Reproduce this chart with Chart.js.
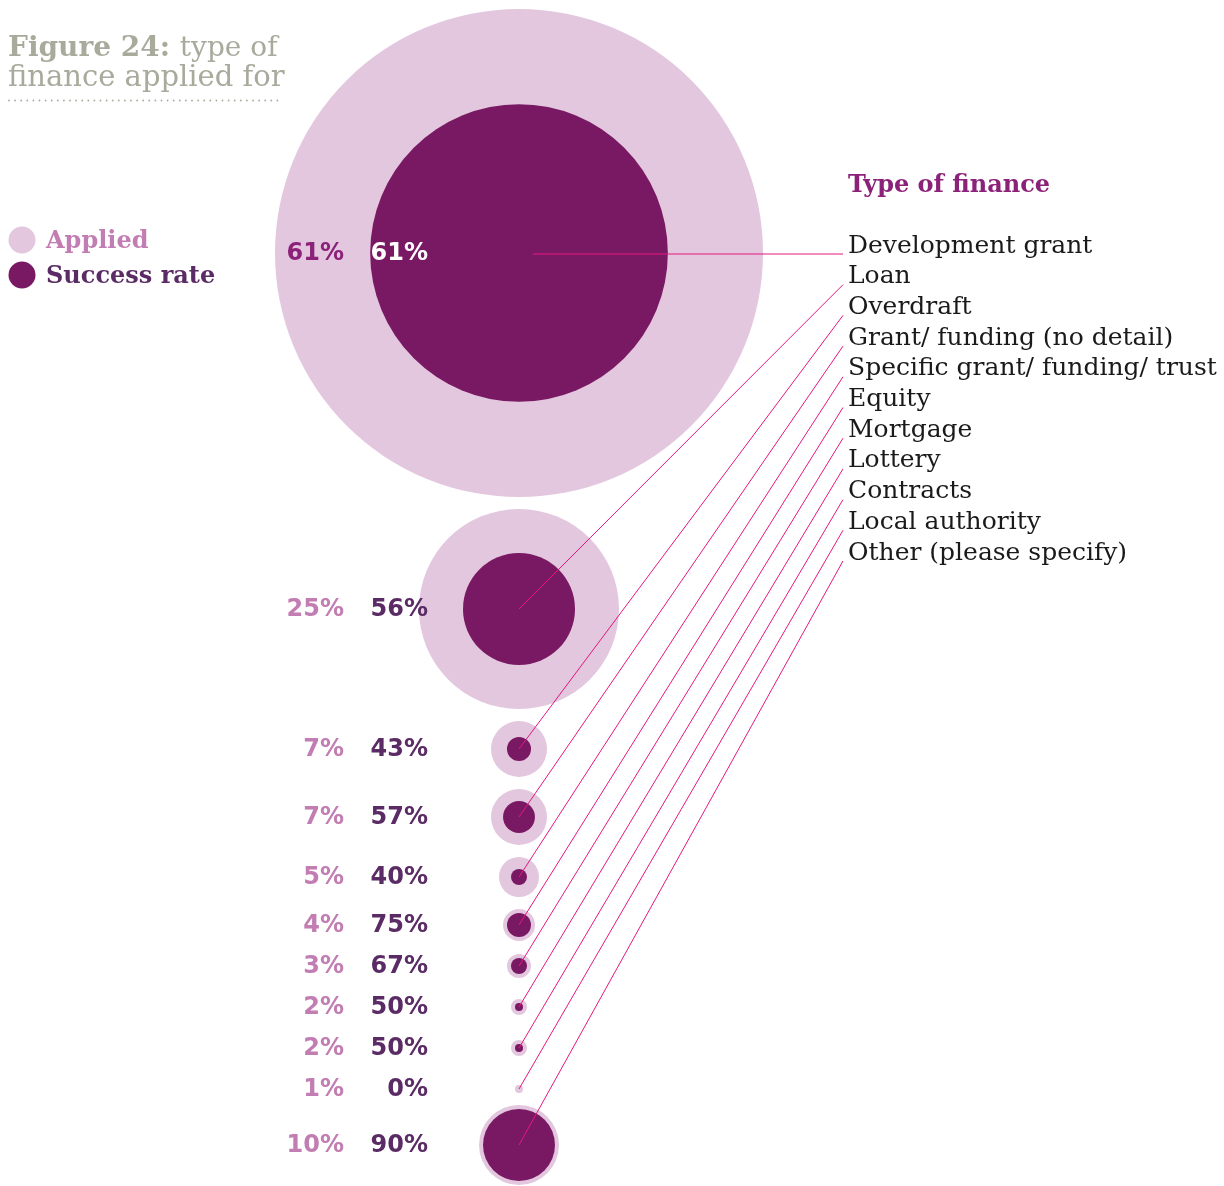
<!DOCTYPE html>
<html>
<head>
<meta charset="utf-8">
<script src="https://cdn.jsdelivr.net/npm/chart.js@4/dist/chart.umd.min.js"></script>
<style>
  html, body { margin: 0; padding: 0; background: #ffffff; }
  #wrap { width: 1224px; height: 1186px; position: relative; }
</style>
</head>
<body>
<div id="wrap"><canvas id="c" width="1224" height="1186"></canvas></div>
<script>
// ---- Data ----
const categories = [
  'Development grant', 'Loan', 'Overdraft', 'Grant/ funding (no detail)',
  'Specific grant/ funding/ trust', 'Equity', 'Mortgage', 'Lottery',
  'Contracts', 'Local authority', 'Other (please specify)'
];
const appliedPct = [61, 25, 7, 7, 5, 4, 3, 2, 2, 1, 10];
const successPct = [61, 56, 43, 57, 40, 75, 67, 50, 50, 0, 90];

const titleBold = 'Figure 24:';
const titleRest = ['type of', 'finance applied for'];
const legendLabels = ['Applied', 'Success rate'];
const listHeading = 'Type of finance';

// ---- Layout / style constants ----
const W = 1224, H = 1186;
const PX_PER_PCT = 4;      // bubble radius (px) per percentage point applied
const COL_X = 519;         // bubble column
const TOP = 9, GAP = 12, MIN_STEP = 41;
const LIGHT = '#e3c7de', DARK = '#7a1963', LINE = '#e5167f';
const APPLIED_TXT = '#c27db3', SUCCESS_TXT = '#5a2b64', HEAD_TXT = '#8b2179';
const GREY = '#a8aa9c';
const SLAB = '"DejaVu Serif", serif';
const SANS = '"DejaVu Sans", sans-serif';

// stacked row centres derived from the bubble radii
const radii = appliedPct.map(v => v * PX_PER_PCT);
const centres = [];
radii.forEach((r, i) => {
  if (i === 0) centres.push(TOP + r);
  else centres.push(centres[i - 1] + Math.max(radii[i - 1] + r + GAP, MIN_STEP));
});

const outerData = appliedPct.map((v, i) => ({ x: COL_X, y: centres[i], r: v * PX_PER_PCT }));
const innerData = appliedPct.map((v, i) => ({ x: COL_X, y: centres[i], r: v * PX_PER_PCT * successPct[i] / 100 }));

const overlay = {
  id: 'overlay',
  afterDatasetsDraw(chart) {
    const ctx = chart.ctx;
    const xs = chart.scales.x, ys = chart.scales.y;
    ctx.save();
    // right-hand list
    const listX = 848, listY0 = 246, listStep = 30.7;
    ctx.font = 'bold 24px ' + SLAB;
    ctx.fillStyle = HEAD_TXT;
    ctx.textBaseline = 'middle';
    ctx.textAlign = 'left';
    ctx.fillText(listHeading, listX, 186);
    ctx.font = '25px ' + SLAB;
    ctx.fillStyle = '#1a1a1a';
    categories.forEach((c, i) => ctx.fillText(c, listX, listY0 + i * listStep));

    // leader lines
    ctx.strokeStyle = LINE;
    ctx.lineWidth = 1;
    categories.forEach((c, i) => {
      const px = xs.getPixelForValue(COL_X);
      const py = ys.getPixelForValue(centres[i]);
      const ex = 843, ey = listY0 + i * listStep + 8;
      ctx.beginPath();
      ctx.moveTo(i === 0 ? px + 14 : px, i === 0 ? ey : py);
      ctx.lineTo(ex, ey);
      ctx.stroke();
    });

    // percentage labels
    ctx.font = 'bold 24px ' + SANS;
    ctx.textAlign = 'right';
    appliedPct.forEach((v, i) => {
      const py = ys.getPixelForValue(centres[i]) + 1;
      ctx.fillStyle = i === 0 ? HEAD_TXT : APPLIED_TXT;
      ctx.fillText(v + '%', 344, py);
      ctx.fillStyle = i === 0 ? '#ffffff' : SUCCESS_TXT;
      ctx.fillText(successPct[i] + '%', 428, py);
    });

    // title
    ctx.textAlign = 'left';
    ctx.textBaseline = 'alphabetic';
    ctx.fillStyle = GREY;
    ctx.font = 'bold 28px ' + SLAB;
    ctx.fillText(titleBold, 8, 56);
    const bw = ctx.measureText(titleBold + ' ').width;
    ctx.font = '28px ' + SLAB;
    ctx.fillText(titleRest[0], 8 + bw, 56);
    ctx.font = '29px ' + SLAB;
    ctx.fillText(titleRest[1], 8, 86);
    // dotted rule
    for (let x = 9; x <= 282; x += 6.1) {
      ctx.beginPath();
      ctx.arc(x, 100.5, 0.9, 0, Math.PI * 2);
      ctx.fill();
    }

    // legend
    ctx.textBaseline = 'middle';
    [[LIGHT, APPLIED_TXT], [DARK, SUCCESS_TXT]].forEach((c, i) => {
      const y = 240 + i * 35;
      ctx.fillStyle = c[0];
      ctx.beginPath();
      ctx.arc(22, y, 13.5, 0, Math.PI * 2);
      ctx.fill();
      ctx.fillStyle = c[1];
      ctx.font = 'bold 24px ' + SLAB;
      ctx.fillText(legendLabels[i], 46, y + 2);
    });
    ctx.restore();
  }
};

new Chart(document.getElementById('c'), {
  type: 'bubble',
  data: {
    datasets: [
      { label: legendLabels[1], data: innerData, backgroundColor: DARK, borderWidth: 0, order: 1, clip: false },
      { label: legendLabels[0], data: outerData, backgroundColor: LIGHT, borderWidth: 0, order: 2, clip: false }
    ]
  },
  options: {
    responsive: false,
    animation: false,
    events: [],
    layout: { padding: 0, autoPadding: false },
    plugins: { legend: { display: false }, tooltip: { enabled: false } },
    scales: {
      x: { type: 'linear', min: 0, max: W, display: false },
      y: { type: 'linear', min: 0, max: H, reverse: true, display: false }
    },
    elements: { point: { hoverRadius: 0, hitRadius: 0 } }
  },
  plugins: [overlay]
});
</script>
</body>
</html>
